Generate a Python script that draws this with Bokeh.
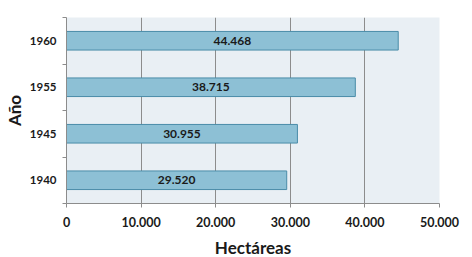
from bokeh.plotting import figure
from bokeh.models import FixedTicker, ColumnDataSource, Range1d
from bokeh.core.properties import value
from bokeh.embed import file_html
from bokeh.resources import INLINE

years = ["1940", "1945", "1955", "1960"]
hectares = [29520, 30955, 38715, 44468]
bar_labels = ["29.520", "30.955", "38.715", "44.468"]
x_ticks = [0, 10000, 20000, 30000, 40000, 50000]
x_tick_labels = ["0", "10.000", "20.000", "30.000", "40.000", "50.000"]

FONT = "Lato"
TXT = "#1a1a1a"

pos = [i + 0.5 for i in range(len(years))]
src = ColumnDataSource(dict(y=pos, x=hectares, half=[h / 2 for h in hectares], lab=bar_labels))

p = figure(frame_width=373, frame_height=186, output_backend="svg", toolbar_location=None,
           x_range=Range1d(0, 50000), y_range=Range1d(0, len(years)),
           min_border_left=66, min_border_right=33, min_border_top=17, min_border_bottom=54)
p.background_fill_color = "#E9EFF4"
p.border_fill_color = "white"
p.outline_line_color = None

p.hbar(y="y", right="x", left=0, height=0.4, source=src,
       fill_color="#8DC0D5", line_color="#4A8CA8", line_width=1)
p.text(x="half", y="y", text="lab", source=src, text_align="center", text_baseline="middle",
       text_font=value(FONT), text_font_style="bold", text_font_size="12px", text_color=TXT)

# x axis
p.xaxis.ticker = FixedTicker(ticks=x_ticks)
p.xaxis.major_label_overrides = {t: l for t, l in zip(x_ticks, x_tick_labels)}
p.xaxis.axis_label = "Hectáreas"
p.xaxis.axis_label_text_font = FONT
p.xaxis.axis_label_text_font_size = "17px"
p.xaxis.axis_label_text_font_style = "bold"
p.xaxis.axis_label_text_color = TXT
p.xaxis.axis_label_standoff = 7
p.xaxis.major_label_text_font = FONT
p.xaxis.major_label_text_font_size = "12.5px"
p.xaxis.major_label_text_font_style = "bold"
p.xaxis.major_label_text_color = TXT
p.xaxis.major_label_standoff = 9
p.xaxis.major_tick_out = 4
p.xaxis.major_tick_in = 0
p.xaxis.minor_tick_line_color = None
p.xaxis.axis_line_color = "#8C8C8C"
p.xaxis.major_tick_line_color = "#8C8C8C"

# y axis
p.yaxis.ticker = FixedTicker(ticks=pos, minor_ticks=list(range(len(years) + 1)))
p.yaxis.major_label_overrides = {t: y for t, y in zip(pos, years)}
p.yaxis.axis_label = "Año"
p.yaxis.axis_label_text_font = FONT
p.yaxis.axis_label_text_font_size = "17px"
p.yaxis.axis_label_text_font_style = "bold"
p.yaxis.axis_label_text_color = TXT
p.yaxis.axis_label_standoff = 2
p.yaxis.major_label_text_font = FONT
p.yaxis.major_label_text_font_size = "11.5px"
p.yaxis.major_label_text_font_style = "bold"
p.yaxis.major_label_text_color = TXT
p.yaxis.major_label_standoff = 6
p.yaxis.major_tick_out = 0
p.yaxis.major_tick_line_color = None
p.yaxis.minor_tick_out = 4
p.yaxis.minor_tick_in = 0
p.yaxis.minor_tick_line_color = "#8C8C8C"
p.yaxis.axis_line_color = "#8C8C8C"

p.xgrid.grid_line_color = "#8C8C8C"
p.xgrid.ticker = FixedTicker(ticks=x_ticks)
p.ygrid.grid_line_color = None

open("out.html", "w").write(file_html(p, INLINE))
